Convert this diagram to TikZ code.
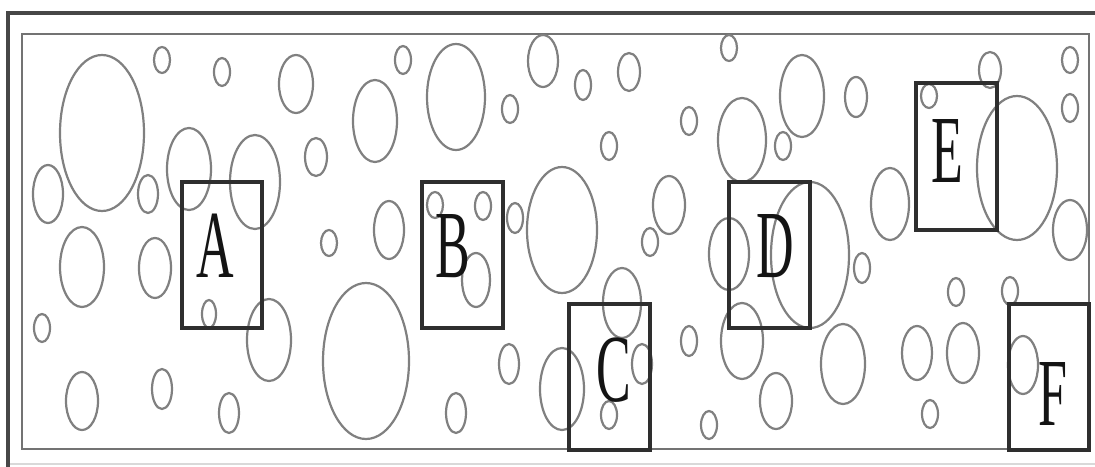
\documentclass[tikz,border=0pt]{standalone}
\usepackage{graphicx}
\usepackage{fontspec}
\setmainfont{Liberation Serif}
\begin{document}
\begin{tikzpicture}[x=1pt,y=-1pt,
  bubble/.style={draw=black!50, line width=2.2pt},
  cell/.style={draw=black!82, line width=3.4pt},
  letter/.style={inner sep=0pt, text=black!92, font=\fontsize{52}{52}\selectfont}]
\fill[white] (0,0) rectangle (1095,466);
\useasboundingbox (0,0) rectangle (1095,466);
% outer frame
\draw[black!15, line width=2pt] (8,464) -- (1100,464);
\draw[black!72, line width=3.6pt] (1100,13) -- (8,13) -- (8,470);
% inner frame
\draw[black!55, line width=2.8pt] (22,34) rectangle (1089,449);
% bubbles
\foreach \cx/\cy/\rx/\ry in {
  102/133/42/78, 162/60/8/13, 222/72/8/14, 296/84/17/29, 48/194/15/29,
  148/194/10/19, 189/169/22/41, 255/182/25/47, 316/157/11/19, 375/121/22/41,
  82/267/22/40, 155/268/16/30, 42/328/8/14, 209/314/7/14, 269/340/22/41,
  329/243/8/13, 366/361/43/78, 82/401/16/29, 162/389/10/20, 229/413/10/20,
  403/60/8/14, 456/97/29/53, 510/109/8/14, 543/61/15/26, 583/85/8/15,
  629/72/11/19, 609/146/8/14, 689/121/8/14, 729/48/8/13, 742/140/24/42,
  435/205/8/13, 483/206/8/14, 515/218/8/15, 389/230/15/29, 562/230/35/63,
  669/205/16/29, 650/242/8/14, 476/280/14/27, 509/364/10/20, 456/413/10/20,
  562/389/22/41, 622/303/19/35, 642/364/10/20, 609/415/8/14, 689/341/8/15,
  709/425/8/14, 742/341/21/38, 802/96/22/41, 783/146/8/14, 856/97/11/20,
  890/204/19/36, 929/96/8/12, 990/70/11/18, 1017/168/40/72, 1070/60/8/13,
  1070/108/8/14, 1070/230/17/30, 810/255/39/73, 862/268/8/15, 956/292/8/14,
  1010/291/8/14, 843/364/22/40, 917/353/15/27, 963/353/16/30, 930/414/8/14,
  1023/365/15/29, 776/401/16/28, 729/254/20/36}
  \draw[bubble] (\cx,\cy) ellipse [x radius=\rx, y radius=\ry];
% cells
\draw[cell] (182,182) rectangle (262,328);
\draw[cell] (422,182) rectangle (503,328);
\draw[cell] (569,304) rectangle (650,450);
\draw[cell] (729,182) rectangle (810,328);
\draw[cell] (916,83) rectangle (997,230);
\draw[cell] (1009,304) rectangle (1089,450);
% labels
\node[letter] (lA) at (215.5,246) {\scalebox{1}[1.85]{A}};
\node[letter] (lB) at (452.5,246) {\scalebox{1}[1.85]{B}};
\node[letter] (lC) at (614,370) {\scalebox{1}[1.85]{C}};
\node[letter] (lD) at (775,246.5) {\scalebox{1}[1.85]{D}};
\node[letter] (lE) at (947,151.5) {\scalebox{1}[1.85]{E}};
\node[letter] (lF) at (1052.5,393.5) {\scalebox{1}[1.85]{F}};
\end{tikzpicture}
\end{document}
